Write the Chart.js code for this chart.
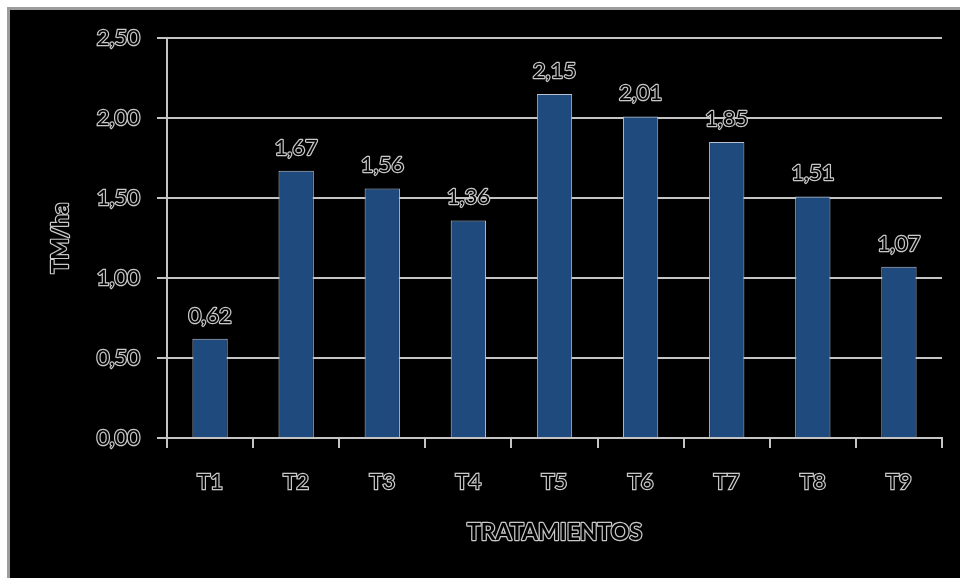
<!DOCTYPE html>
<html>
<head>
<meta charset="utf-8">
<script src="https://cdn.jsdelivr.net/npm/chart.js@4/dist/chart.umd.min.js"></script>
<style>
  html, body { margin: 0; padding: 0; background: #fff; }
  #wrap { width: 960px; height: 578px; position: relative; }
</style>
</head>
<body>
<div id="wrap"><canvas id="c" width="960" height="578"></canvas></div>
<script>
// Rendimiento por tratamiento (TM/ha)
const categories = ['T1', 'T2', 'T3', 'T4', 'T5', 'T6', 'T7', 'T8', 'T9'];
const yieldValues = [0.62, 1.67, 1.56, 1.36, 2.15, 2.01, 1.85, 1.51, 1.07];
const yTitle = 'TM/ha';
const xTitle = 'TRATAMIENTOS';

const FONT = 'Lato, "Open Sans", "DejaVu Sans", sans-serif';
const TEXT_FILL = '#000000';
const TEXT_STROKE = '#c8c8c8';
const STROKE_W = 2.4;
const fmt = v => v.toFixed(2).replace('.', ',');

function outlinedText(ctx, text, x, y, font, align, baseline) {
  ctx.save();
  ctx.font = font;
  ctx.textAlign = align;
  ctx.textBaseline = baseline;
  ctx.lineJoin = 'round';
  ctx.lineWidth = STROKE_W;
  ctx.strokeStyle = TEXT_STROKE;
  ctx.strokeText(text, x, y);
  ctx.fillStyle = TEXT_FILL;
  ctx.fillText(text, x, y);
  ctx.restore();
}

// Frame and black panel behind the chart
const framePlugin = {
  id: 'frame',
  beforeDraw(chart) {
    const ctx = chart.ctx;
    ctx.save();
    ctx.fillStyle = '#ffffff';
    ctx.fillRect(0, 0, chart.width, chart.height);
    ctx.fillStyle = '#9c9c9c';
    ctx.fillRect(7, 7, chart.width - 7, chart.height - 7);
    ctx.fillStyle = '#000000';
    ctx.fillRect(10, 10, chart.width - 10, chart.height - 10);
    ctx.restore();
  }
};

// Value labels above bars and the two axis titles
const labelsPlugin = {
  id: 'labels',
  afterDatasetsDraw(chart) {
    const ctx = chart.ctx;
    const meta = chart.getDatasetMeta(0);
    meta.data.forEach((bar, i) => {
      outlinedText(ctx, fmt(yieldValues[i]), bar.x, bar.y - 23, '22px ' + FONT, 'center', 'middle');
    });
    const area = chart.chartArea;
    outlinedText(ctx, xTitle, (area.left + area.right) / 2, 533, 'bold 23px ' + FONT, 'center', 'middle');
    ctx.save();
    ctx.translate(61, (area.top + area.bottom) / 2);
    ctx.rotate(-Math.PI / 2);
    outlinedText(ctx, yTitle, 0, 0, 'bold 23px ' + FONT, 'center', 'middle');
    ctx.restore();
  }
};

new Chart(document.getElementById('c'), {
  type: 'bar',
  data: {
    labels: categories,
    datasets: [{
      data: yieldValues,
      backgroundColor: '#1f4a7e',
      borderColor: '#b8c2d4',
      borderWidth: 1,
      barPercentage: 0.41,
      categoryPercentage: 1
    }]
  },
  options: {
    responsive: false,
    animation: false,
    layout: { padding: { top: 38, right: 18, left: 0, bottom: 0 } },
    plugins: { legend: { display: false }, tooltip: { enabled: false } },
    scales: {
      y: {
        min: 0,
        max: 2.5,
        afterFit(scale) { scale.width = 167; },
        ticks: {
          stepSize: 0.5,
          callback: v => fmt(v),
          font: { family: FONT, size: 22 },
          color: TEXT_FILL,
          textStrokeColor: TEXT_STROKE,
          textStrokeWidth: STROKE_W,
          padding: 17
        },
        grid: { color: '#c4c4c4', lineWidth: 2, tickLength: 10, drawTicks: true },
        border: { display: true, color: '#c4c4c4', width: 2 }
      },
      x: {
        afterFit(scale) { scale.height = 140; },
        ticks: {
          font: { family: FONT, size: 22 },
          color: TEXT_FILL,
          textStrokeColor: TEXT_STROKE,
          textStrokeWidth: STROKE_W,
          padding: 21
        },
        grid: { drawOnChartArea: false, drawTicks: true, tickLength: 10, color: '#c4c4c4', lineWidth: 2, offset: true },
        border: { display: true, color: '#c4c4c4', width: 2 }
      }
    }
  },
  plugins: [framePlugin, labelsPlugin]
});
</script>
</body>
</html>
